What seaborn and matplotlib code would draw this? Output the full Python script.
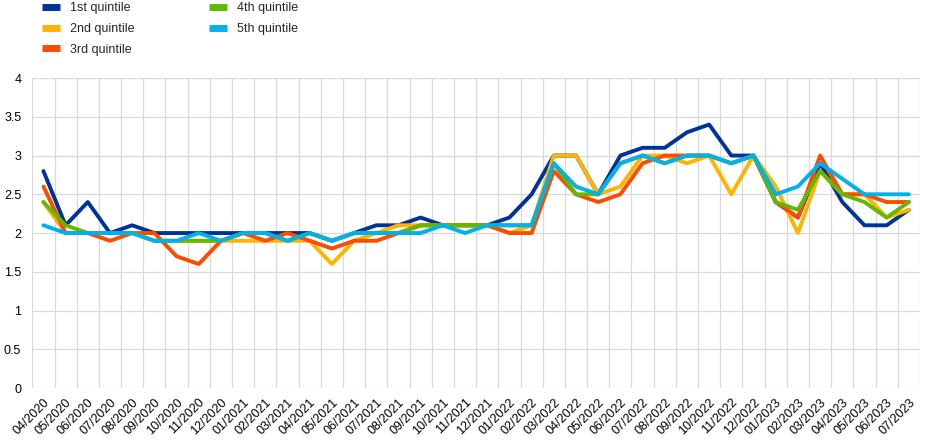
# Household inflation expectations by income quintile, monthly 04/2020 - 07/2023
import pandas as pd
import matplotlib
matplotlib.use("Agg")
import matplotlib.pyplot as plt
from matplotlib.lines import Line2D
import seaborn as sns

# DATA

months = ["04/2020", "05/2020", "06/2020", "07/2020", "08/2020", "09/2020", "10/2020", "11/2020",
          "12/2020", "01/2021", "02/2021", "03/2021", "04/2021", "05/2021", "06/2021", "07/2021",
          "08/2021", "09/2021", "10/2021", "11/2021", "12/2021", "01/2022", "02/2022", "03/2022",
          "04/2022", "05/2022", "06/2022", "07/2022", "08/2022", "09/2022", "10/2022", "11/2022",
          "12/2022", "01/2023", "02/2023", "03/2023", "04/2023", "05/2023", "06/2023", "07/2023"]

q1 = [2.8, 2.1, 2.4, 2.0, 2.1, 2.0, 2.0, 2.0, 2.0, 2.0, 2.0, 2.0, 2.0, 1.9, 2.0, 2.1, 2.1, 2.2, 2.1, 2.1,
      2.1, 2.2, 2.5, 3.0, 3.0, 2.5, 3.0, 3.1, 3.1, 3.3, 3.4, 3.0, 3.0, 2.4, 2.2, 2.9, 2.4, 2.1, 2.1, 2.3]
q2 = [2.4, 2.0, 2.0, 2.0, 2.0, 1.9, 1.9, 1.9, 1.9, 1.9, 1.9, 1.9, 1.9, 1.6, 1.9, 2.0, 2.1, 2.1, 2.1, 2.1,
      2.1, 2.0, 2.1, 3.0, 3.0, 2.5, 2.6, 3.0, 3.0, 2.9, 3.0, 2.5, 3.0, 2.6, 2.0, 2.8, 2.5, 2.5, 2.2, 2.3]
q3 = [2.6, 2.0, 2.0, 1.9, 2.0, 2.0, 1.7, 1.6, 1.9, 2.0, 1.9, 2.0, 1.9, 1.8, 1.9, 1.9, 2.0, 2.1, 2.1, 2.1,
      2.1, 2.0, 2.0, 2.8, 2.5, 2.4, 2.5, 2.9, 3.0, 3.0, 3.0, 2.9, 3.0, 2.4, 2.2, 3.0, 2.5, 2.5, 2.4, 2.4]
q4 = [2.4, 2.1, 2.0, 2.0, 2.0, 1.9, 1.9, 1.9, 1.9, 2.0, 2.0, 1.9, 2.0, 1.9, 2.0, 2.0, 2.0, 2.1, 2.1, 2.1,
      2.1, 2.1, 2.1, 2.9, 2.5, 2.5, 2.9, 3.0, 2.9, 3.0, 3.0, 2.9, 3.0, 2.4, 2.3, 2.8, 2.5, 2.4, 2.2, 2.4]
q5 = [2.1, 2.0, 2.0, 2.0, 2.0, 1.9, 1.9, 2.0, 1.9, 2.0, 2.0, 1.9, 2.0, 1.9, 2.0, 2.0, 2.0, 2.0, 2.1, 2.0,
      2.1, 2.1, 2.1, 2.9, 2.6, 2.5, 2.9, 3.0, 2.9, 3.0, 3.0, 2.9, 3.0, 2.5, 2.6, 2.9, 2.7, 2.5, 2.5, 2.5]

series_names = ["1st quintile", "2nd quintile", "3rd quintile", "4th quintile", "5th quintile"]
colors = ["#003299", "#FFB400", "#FF4B00", "#65B800", "#00B1EA"]

# LONG FORMAT TABLE
frames = []
for name, vals in zip(series_names, [q1, q2, q3, q4, q5]):
    frames.append(pd.DataFrame({"pos": range(len(months)), "value": vals, "series": name}))
df = pd.concat(frames, ignore_index=True)

# PLOT
sns.set_theme(style="white")
plt.rcParams["font.family"] = ["Liberation Sans", "DejaVu Sans"]

fig = plt.figure(figsize=(9.45, 4.45), dpi=100)
ax = fig.add_axes([0.0342, 0.128, 0.9393, 0.6966])

sns.lineplot(data=df, x="pos", y="value", hue="series", palette=colors,
             linewidth=2.8, ax=ax, legend=False, sort=False)

ax.set_xlim(-0.5, len(months) - 0.5)
ax.set_ylim(0, 4)
ax.set_yticks([0, 0.5, 1, 1.5, 2, 2.5, 3, 3.5, 4])
ax.set_yticklabels(["0", "0.5", "1", "1.5", "2", "2.5", "3", "3.5", "4"], fontsize=9)
ax.set_xticks(range(len(months)))
ax.set_xticklabels(months, rotation=45, ha="right", rotation_mode="anchor", fontsize=9)
ax.set_xticks([i - 0.5 for i in range(len(months) + 1)], minor=True)

ax.grid(axis="y", which="major", color="#d9d9d9", linewidth=0.9)
ax.grid(axis="x", which="minor", color="#d9d9d9", linewidth=0.9)
ax.grid(axis="x", which="major", visible=False)
ax.set_axisbelow(True)
ax.tick_params(axis="both", which="both", length=0, colors="black")
ax.tick_params(axis="y", pad=8)
ax.tick_params(axis="x", pad=6)
ax.set_xlabel("")
ax.set_ylabel("")
for s in ax.spines.values():
    s.set_visible(False)

# LEGEND
handles = [Line2D([0], [0], color=c, linewidth=5, solid_capstyle="butt") for c in colors]
fig.legend(handles, series_names, ncol=2, loc="upper left", bbox_to_anchor=(0.033, 1.02),
           frameon=False, fontsize=9, handlelength=1.4, handletextpad=0.8,
           columnspacing=6.0, labelspacing=0.7)

fig.savefig("out.png", dpi=100)
